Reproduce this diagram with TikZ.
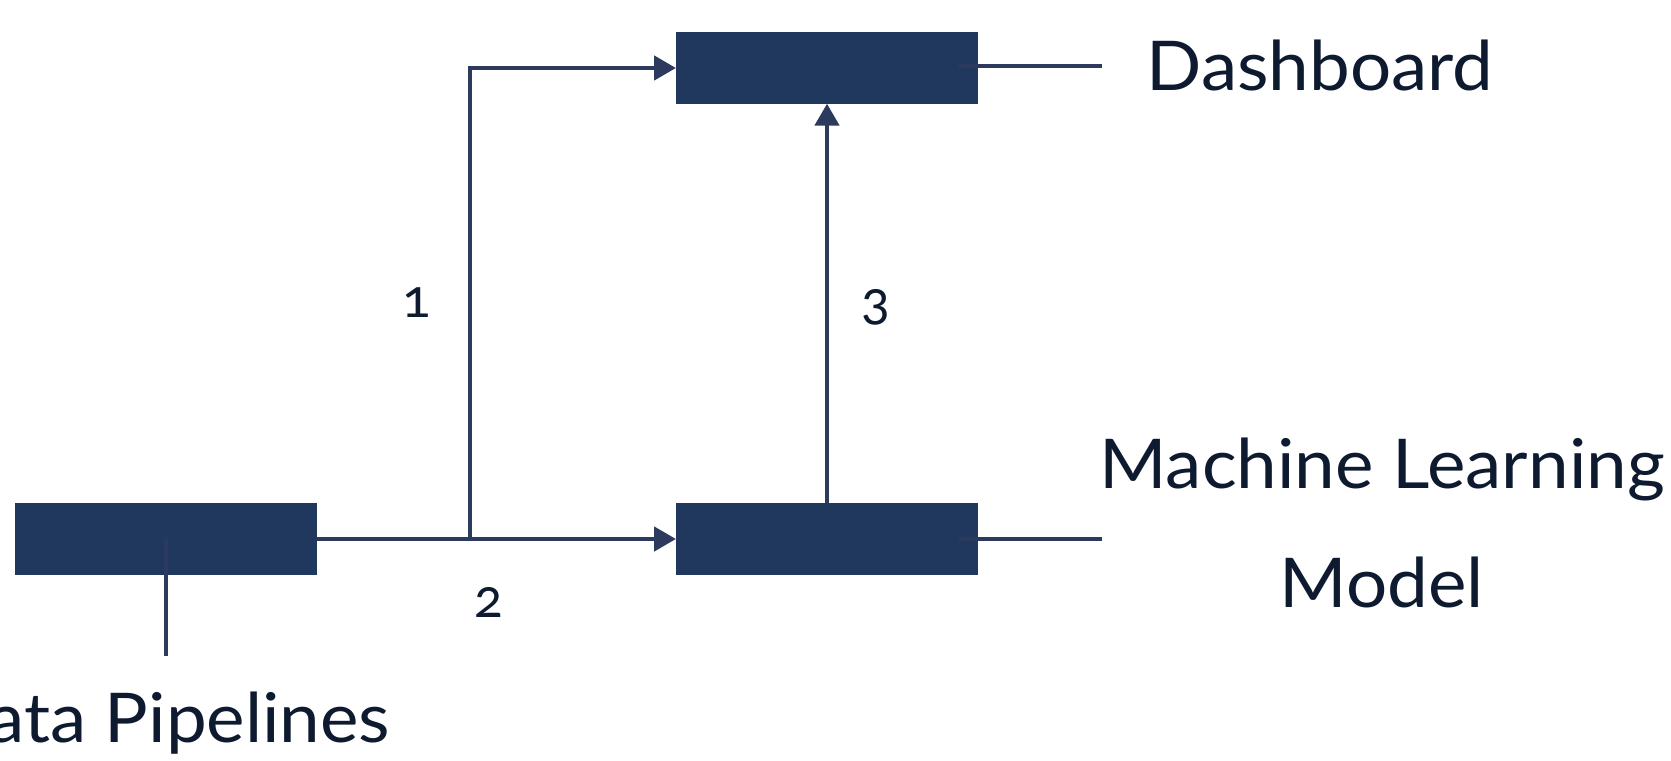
\documentclass[tikz,border=0pt]{standalone}
\usepackage{fontspec}
\setmainfont[FakeStretch=1.06]{Lato}
\newfontfamily\digitfont[Numbers=OldStyle]{Lato}
\usetikzlibrary{arrows.meta}
\definecolor{boxfill}{RGB}{32,55,94}
\definecolor{linecol}{RGB}{44,58,94}
\definecolor{txtcol}{RGB}{14,26,48}
\begin{document}
\begin{tikzpicture}[x=0.3pt,y=-0.3pt,
  box/.style={draw=none,fill=boxfill,minimum width=90.6pt,minimum height=21.4pt,inner sep=0pt,outer sep=0pt},
  conn/.style={draw=linecol,line width=1.4pt},
  arr/.style={conn,-{Triangle[length=6.6pt,width=7.2pt]}},
  lbl/.style={text=txtcol,font=\fontsize{20.6}{35.7}\selectfont,inner sep=0pt},
  num/.style={text=txtcol,font=\digitfont\fontsize{16}{18}\selectfont,inner sep=0pt}]
\useasboundingbox (0,0) rectangle (1671,760);
\node[box] (db) at (827,68) {};
\node[box] (ml) at (827,539) {};
\node[box] (dp) at (166,539) {};
\coordinate (j) at (470,539);
\coordinate (dbend) at (1102,66);
\coordinate (mlend) at (1102,539);
\coordinate (dpend) at (166,656);
\draw[arr] (dp.east) -- (ml.west);
\draw[arr] (j) |- (db.west);
\draw[arr] (ml.north) -- (db.south);
\draw[conn] ([xshift=-5.7pt,yshift=0.6pt]db.east) -- (dbend);
\draw[conn] ([xshift=-5.7pt]ml.east) -- (mlend);
\draw[conn] (dp.center) -- (dpend);
\node[num] (n1) at (417,303) {1};
\node[num] (n2) at (489,602) {2};
\node[num] (n3) at (876,307) {3};
\node[lbl,anchor=base west] (tdb) at (1146,91) {Dashboard};
\node[lbl,anchor=base,align=center] (tml) at (1382,607) {Machine Learning\\Model};
\node[lbl,anchor=base east] (tdp) at (391,742) {Data Pipelines};
\end{tikzpicture}
\end{document}
